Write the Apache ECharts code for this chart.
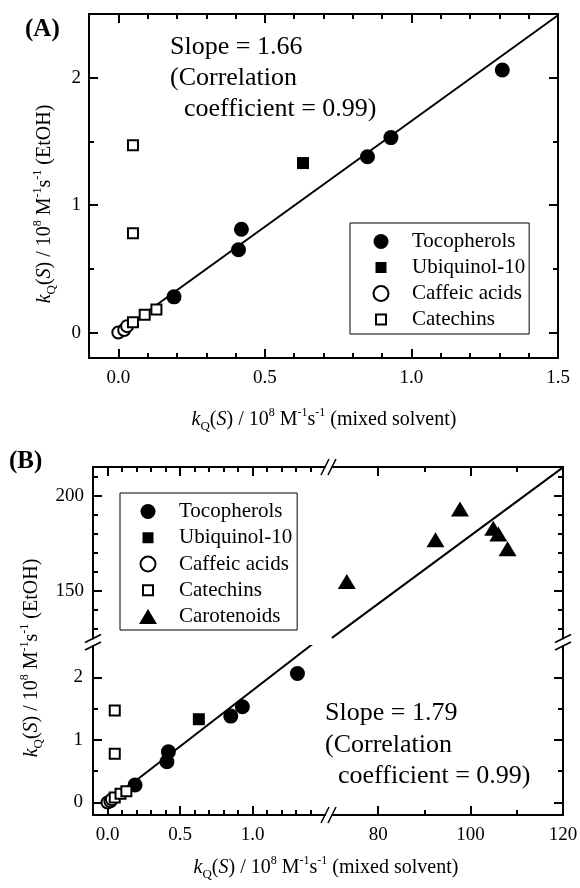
<!DOCTYPE html>
<html>
<head>
<meta charset="utf-8">
<script src="https://cdn.jsdelivr.net/npm/echarts@6/dist/echarts.min.js"></script>
<style>
  html, body { margin: 0; padding: 0; background: #fff; }
  #chart { width: 580px; height: 888px; }
</style>
</head>
<body>
<div id="chart"></div>
<script>
// ---- measured rate constants: [mixed solvent, EtOH] in 10^8 M^-1 s^-1 ----
const tocopherols  = [[0.19, 0.28], [0.41, 0.65], [0.42, 0.81], [0.85, 1.38], [0.93, 1.53], [1.31, 2.06]];
const ubiquinol10  = [[0.63, 1.33]];
const caffeicAcids = [[0.00, 0.00], [0.02, 0.02], [0.03, 0.05]];
const catechins    = [[0.05, 1.47], [0.05, 0.78], [0.05, 0.08], [0.09, 0.14], [0.13, 0.18]];
const carotenoids  = [[73.2, 154.9], [92.4, 176.8], [97.7, 193.0], [104.9, 182.9], [106.0, 179.9], [108.0, 172.1]];

// regression results
const slopeA = 1.66, corrA = 0.99;
const slopeB = 1.79, corrB = 0.99;

// axis ranges
const xRangeA = [-0.1, 1.5],  yRangeA = [-0.2, 2.5];
const xRangeLow = [-0.1, 1.5], xRangeHigh = [70, 120];
const yRangeLow = [-0.2, 2.5], yRangeHigh = [125, 215];

// tick positions
const xMajorA = [0, 0.5, 1.0, 1.5];
const xMinorA = [0.1, 0.2, 0.3, 0.4, 0.6, 0.7, 0.8, 0.9, 1.1, 1.2, 1.3, 1.4];
const yMajorA = [0, 1, 2];
const yMinorA = [0.5, 1.5];
const xMajorLow = [0, 0.5, 1.0];
const xMinorLow = [0.1, 0.2, 0.3, 0.4, 0.6, 0.7, 0.8, 0.9, 1.1, 1.2, 1.3, 1.4];
const xMajorHigh = [80, 100, 120];
const xMinorHigh = [90, 110];
const yMajorLow = [0, 1, 2];
const yMinorLow = [0.5, 1.5];
const yMajorHigh = [150, 200];
const yMinorHigh = [130, 140, 160, 170, 180, 190, 210];

const legendNamesA = ['Tocopherols', 'Ubiquinol-10', 'Caffeic acids', 'Catechins'];
const legendNamesB = ['Tocopherols', 'Ubiquinol-10', 'Caffeic acids', 'Catechins', 'Carotenoids'];

// ---- styling ----
const FONT = 'Liberation Serif';
const INK = '#000';
const fmt1 = v => v.toFixed(1);
const fmt0 = v => String(Math.round(v));

// panel layout (pixels)
const gA  = { left: 89,  top: 14,  width: 469, height: 344 };
const gLL = { left: 93,  top: 646, width: 232, height: 169 };
const gUL = { left: 93,  top: 467, width: 232, height: 171.5 };
const gUR = { left: 332, top: 467, width: 231, height: 171.5 };
const gLR = { left: 332, top: 646, width: 231, height: 169 };

function axisPair(gridIndex, position, range, majors, minors, labels, fmt, margin) {
  const base = {
    type: 'value', gridIndex, position, min: range[0], max: range[1],
    splitLine: { show: false }, splitArea: { show: false }, minorTick: { show: false }
  };
  const main = Object.assign({}, base, {
    axisLine: { show: true, onZero: false, lineStyle: { color: INK, width: 2 } },
    axisTick: { show: true, inside: true, length: 9, customValues: majors, lineStyle: { color: INK, width: 2 } },
    axisLabel: { show: labels, customValues: majors, formatter: fmt, margin: margin,
                 color: INK, fontFamily: FONT, fontSize: 19 }
  });
  const minor = Object.assign({}, base, {
    axisLine: { show: false, onZero: false },
    axisTick: { show: true, inside: true, length: 5, customValues: minors, lineStyle: { color: INK, width: 2 } },
    axisLabel: { show: false }
  });
  return [main, minor];
}

const xAxes = [].concat(
  axisPair(0, 'bottom', xRangeA, xMajorA, xMinorA, true, fmt1, 11),     // 0,1
  axisPair(0, 'top',    xRangeA, xMajorA, xMinorA, false, fmt1, 8),     // 2,3
  axisPair(1, 'bottom', xRangeLow, xMajorLow, xMinorLow, true, fmt1, 11), // 4,5
  axisPair(2, 'top',    xRangeLow, xMajorLow, xMinorLow, false, fmt1, 8), // 6,7
  axisPair(3, 'top',    xRangeHigh, xMajorHigh, xMinorHigh, false, fmt0, 8), // 8,9
  axisPair(4, 'bottom', xRangeHigh, xMajorHigh, xMinorHigh, true, fmt0, 11)  // 10,11
);
const yAxes = [].concat(
  axisPair(0, 'left',  yRangeA, yMajorA, yMinorA, true, fmt0, 8),        // 0,1
  axisPair(0, 'right', yRangeA, yMajorA, yMinorA, false, fmt0, 8),       // 2,3
  axisPair(1, 'left',  yRangeLow, yMajorLow, yMinorLow, true, fmt0, 10),  // 4,5
  axisPair(2, 'left',  yRangeHigh, yMajorHigh, yMinorHigh, true, fmt0, 9), // 6,7
  axisPair(3, 'right', yRangeHigh, yMajorHigh, yMinorHigh, false, fmt0, 8), // 8,9
  axisPair(4, 'right', yRangeLow, yMajorLow, yMinorLow, false, fmt0, 8)    // 10,11
);

// marker styles per compound class
const markerStyles = {
  'Tocopherols':   { symbol: 'circle', symbolSize: 15, itemStyle: { color: INK, opacity: 1 } },
  'Ubiquinol-10':  { symbol: 'rect', symbolSize: 12, itemStyle: { color: INK, opacity: 1 } },
  'Caffeic acids': { symbol: 'circle', symbolSize: 12, itemStyle: { color: '#fff', borderColor: INK, borderWidth: 2, opacity: 1 } },
  'Catechins':     { symbol: 'rect', symbolSize: 10, itemStyle: { color: '#fff', borderColor: INK, borderWidth: 2, opacity: 1 } },
  'Carotenoids':   { symbol: 'triangle', symbolSize: [18, 15], itemStyle: { color: INK, opacity: 1 } }
};

function scatter(name, data, xi, yi) {
  return Object.assign({
    type: 'scatter', name, data, xAxisIndex: xi, yAxisIndex: yi, z: 5,
    emphasis: { disabled: true }
  }, markerStyles[name]);
}

function fitLine(slope, x0, x1, xi, yi) {
  return {
    type: 'line', xAxisIndex: xi, yAxisIndex: yi, z: 3, silent: true, clip: true,
    symbol: 'none', showSymbol: false,
    lineStyle: { color: INK, width: 2, opacity: 1 },
    data: [[x0, slope * x0], [x1, slope * x1]]
  };
}

const series = [
  fitLine(slopeA, 0, xRangeA[1], 0, 0),
  scatter('Tocopherols', tocopherols, 0, 0),
  scatter('Ubiquinol-10', ubiquinol10, 0, 0),
  scatter('Caffeic acids', caffeicAcids, 0, 0),
  scatter('Catechins', catechins, 0, 0),

  fitLine(slopeB, 0, xRangeLow[1], 4, 4),
  fitLine(slopeB, xRangeHigh[0], xRangeHigh[1], 8, 8),
  scatter('Tocopherols', tocopherols, 4, 4),
  scatter('Ubiquinol-10', ubiquinol10, 4, 4),
  scatter('Caffeic acids', caffeicAcids, 4, 4),
  scatter('Catechins', catechins, 4, 4),
  scatter('Carotenoids', carotenoids, 8, 8)
];

// legend icons sized within an 18 x 15 box
const legendIcons = {
  'Tocopherols': 'circle',
  'Ubiquinol-10': 'path://M0,0M18,15M3.5,2H14.5V13H3.5Z',
  'Caffeic acids': 'circle',
  'Catechins': 'path://M0,0M18,15M4,2.5H14V12.5H4Z',
  'Carotenoids': 'path://M9,0L18,15H0Z'
};

function legendBox(names, left, top, padding, gap) {
  return {
    orient: 'vertical', left, top, itemWidth: 18, itemHeight: 15, itemGap: gap,
    padding, borderColor: INK, borderWidth: 1, backgroundColor: '#fff',
    selectedMode: false,
    itemStyle: { opacity: 1 },
    textStyle: { fontFamily: FONT, fontSize: 21, color: INK, lineHeight: 21, padding: [0, 0, 0, 17] },
    data: names.map(n => ({ name: n, icon: legendIcons[n] }))
  };
}

// rich text for the axis titles
const titleRich = {
  n:   { fontFamily: FONT, fontSize: 20, lineHeight: 26, fill: INK, color: INK },
  i:   { fontFamily: FONT, fontSize: 20, lineHeight: 26, fontStyle: 'italic', fill: INK, color: INK },
  sub: { fontFamily: FONT, fontSize: 13, lineHeight: 10, verticalAlign: 'bottom', fill: INK, color: INK },
  sup: { fontFamily: FONT, fontSize: 12, lineHeight: 13, verticalAlign: 'top', fill: INK, color: INK }
};
function axisTitle(tail) {
  return '{i|k}{sub|Q}{n|(}{i|S}{n|) / 10}{sup|8}{n| M}{sup|-1}{n|s}{sup|-1}{n| ' + tail + '}';
}
function titleText(text, x, y, rotation) {
  return {
    type: 'text', x, y, rotation: rotation || 0, silent: true,
    style: { text, rich: titleRich, fill: INK, align: 'center', verticalAlign: 'middle',
             fontFamily: FONT, fontSize: 20 }
  };
}
function plainText(text, x, y, size, weight) {
  return {
    type: 'text', x, y, silent: true,
    style: { text, fill: INK, align: 'left', verticalAlign: 'middle',
             fontFamily: FONT, fontSize: size, fontWeight: weight || 'normal' }
  };
}
function slash(cx, cy, dx, dy) {
  return {
    type: 'line', silent: true,
    shape: { x1: cx - dx, y1: cy + dy, x2: cx + dx, y2: cy - dy },
    style: { stroke: INK, lineWidth: 1.6 }
  };
}

// axis-break markers of panel B, placed at the gaps between its sub-grids
const gapX1 = gLL.left + gLL.width, gapX2 = gUR.left;
const gapY1 = gUL.top + gUL.height, gapY2 = gLL.top;
const frameTop = gUL.top, frameBottom = gLL.top + gLL.height;
const frameLeft = gLL.left, frameRight = gUR.left + gUR.width;
const breaks = [
  slash(gapX1, frameTop, 4, 8), slash(gapX2, frameTop, 4, 8),
  slash(gapX1, frameBottom, 4, 8), slash(gapX2, frameBottom, 4, 8),
  slash(frameLeft, gapY1, 8, 4), slash(frameLeft, gapY2, 8, 4),
  slash(frameRight, gapY1, 8, 4), slash(frameRight, gapY2, 8, 4)
];

const option = {
  animation: false,
  backgroundColor: '#fff',
  grid: [gA, gLL, gUL, gUR, gLR].map(g => Object.assign({ outerBoundsMode: 'none', containLabel: false }, g)),
  xAxis: xAxes,
  yAxis: yAxes,
  legend: [
    legendBox(legendNamesA, 350, 223, [8, 4, 4, 21], 5),
    legendBox(legendNamesB, 120, 493, [8, 5, 3, 18], 5.25)
  ],
  series,
  graphic: [
    plainText('(A)', 25, 30, 25, 'bold'),
    plainText('(B)', 9, 462, 25, 'bold'),
    plainText('Slope = ' + slopeA.toFixed(2), 170, 47, 26),
    plainText('(Correlation', 170, 78, 26),
    plainText('coefficient = ' + corrA.toFixed(2) + ')', 184, 109, 26),
    plainText('Slope = ' + slopeB.toFixed(2), 325, 713, 26),
    plainText('(Correlation', 325, 745, 26),
    plainText('coefficient = ' + corrB.toFixed(2) + ')', 338, 776, 26),
    titleText(axisTitle('(mixed solvent)'), 324, 420, 0),
    titleText(axisTitle('(EtOH)'), 45, 204, Math.PI / 2),
    titleText(axisTitle('(mixed solvent)'), 326, 868, 0),
    titleText(axisTitle('(EtOH)'), 32, 658, Math.PI / 2)
  ].concat(breaks)
};

const chart = echarts.init(document.getElementById('chart'));
chart.setOption(option);
</script>
</body>
</html>
